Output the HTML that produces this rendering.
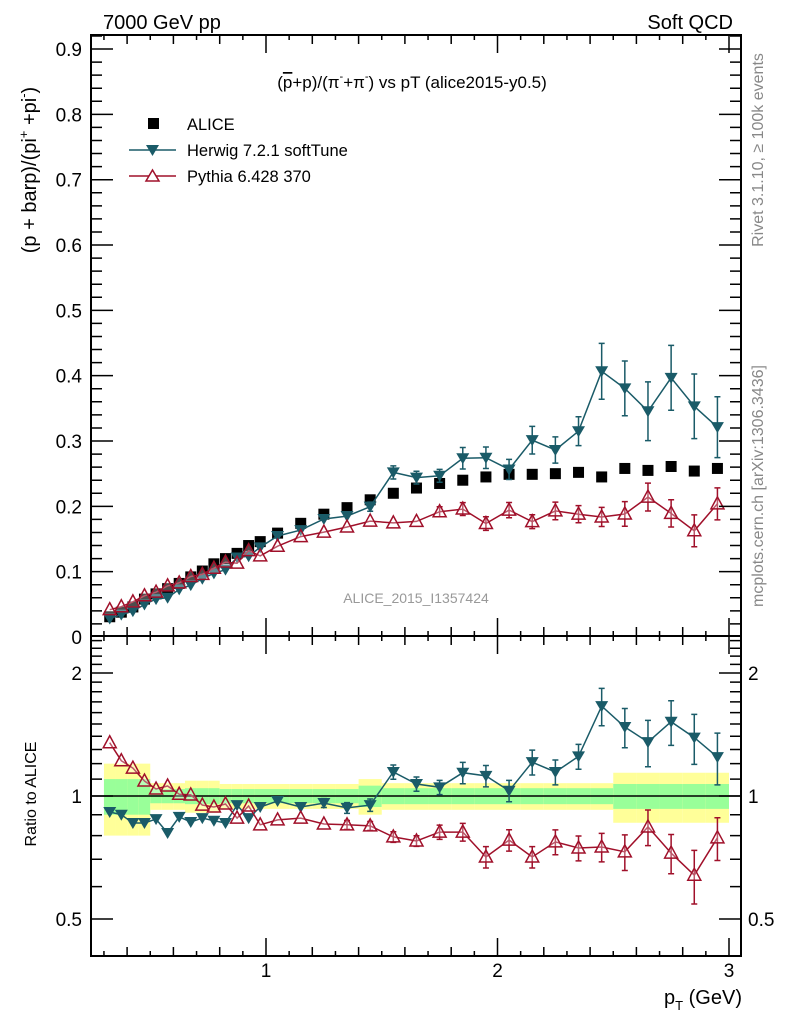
<!DOCTYPE html>
<html><head><meta charset="utf-8"><style>
html,body{margin:0;padding:0;background:#fff;}
svg{display:block;font-family:"Liberation Sans",sans-serif;}
</style></head><body>
<svg id="chart" width="786" height="1024" viewBox="0 0 786 1024" xmlns="http://www.w3.org/2000/svg">
<rect x="0" y="0" width="786" height="1024" fill="#fff"/>
<text x="103" y="29" font-size="20">7000 GeV pp</text>
<text x="733" y="29" font-size="20" text-anchor="end">Soft QCD</text>
<text x="412" y="88" font-size="17" text-anchor="middle">(<tspan text-decoration="overline">p</tspan>+p)/(π<tspan font-size="11" dy="-8">-</tspan><tspan dy="8">+π</tspan><tspan font-size="11" dy="-8">-</tspan><tspan dy="8">) vs pT (alice2015-y0.5)</tspan></text>
<text transform="translate(36,170) rotate(-90)" font-size="20" text-anchor="middle">(p + barp)/(pi<tspan font-size="13" dy="-8">+</tspan><tspan dy="8"> +pi</tspan><tspan font-size="13" dy="-8">-</tspan><tspan dy="8">)</tspan></text>
<text transform="translate(36,794) rotate(-90)" font-size="16" text-anchor="middle">Ratio to ALICE</text>
<text x="742" y="1004" font-size="20" text-anchor="end">p<tspan font-size="13" dy="6">T</tspan><tspan dy="-6"> (GeV)</tspan></text>
<text transform="translate(763,150) rotate(-90)" font-size="16" fill="#888" text-anchor="middle">Rivet 3.1.10, ≥ 100k events</text>
<text transform="translate(763,486) rotate(-90)" font-size="16" fill="#888" text-anchor="middle">mcplots.cern.ch [arXiv:1306.3436]</text>
<text x="416" y="603" font-size="14" fill="#999" text-anchor="middle">ALICE_2015_I1357424</text>
<g>
 <rect x="148" y="118" width="11" height="11" fill="#000"/>
 <text x="187" y="130" font-size="16.5">ALICE</text>
 <line x1="129" y1="150" x2="176" y2="150" stroke="#1a5b68" stroke-width="1.5"/>
 <path d="M146,145 L159,145 L152.5,156 Z" fill="#1a5b68"/>
 <text x="187" y="156" font-size="16.5">Herwig 7.2.1 softTune</text>
 <line x1="129" y1="176" x2="176" y2="176" stroke="#a0102a" stroke-width="1.5"/>
 <path d="M152.5,170 L159,181 L146,181 Z" fill="#fff" stroke="#a0102a" stroke-width="1.5"/>
 <text x="187" y="182" font-size="16.5">Pythia 6.428 370</text>
</g>
<g id="bands"></g>
<g id="marks"></g>
<g id="axes"></g>
</svg>
<script>
const pT = [0.325,0.375,0.425,0.475,0.525,0.575,0.625,0.675,0.725,0.775,0.825,0.875,0.925,0.975,
 1.05,1.15,1.25,1.35,1.45,1.55,1.65,1.75,1.85,1.95,2.05,2.15,2.25,2.35,2.45,2.55,2.65,2.75,2.85,2.95];
const binWidth = [0.05,0.05,0.05,0.05,0.05,0.05,0.05,0.05,0.05,0.05,0.05,0.05,0.05,0.05,
 0.1,0.1,0.1,0.1,0.1,0.1,0.1,0.1,0.1,0.1,0.1,0.1,0.1,0.1,0.1,0.1,0.1,0.1,0.1,0.1];
const alice = [0.031,0.038,0.046,0.058,0.066,0.074,0.082,0.092,0.101,0.112,0.120,0.128,0.140,0.146,
 0.159,0.174,0.188,0.198,0.210,0.220,0.228,0.235,0.240,0.245,0.249,0.249,0.250,0.252,0.245,0.258,0.255,0.261,0.254,0.258];
const bandYellow = [0.2,0.2,0.2,0.2,0.075,0.075,0.075,0.09,0.09,0.09,0.07,0.07,0.07,0.07,
 0.07,0.07,0.07,0.07,0.1,0.075,0.075,0.075,0.075,0.075,0.075,0.075,0.075,0.075,0.075,0.14,0.14,0.14,0.14,0.14];
const bandGreen = [0.1,0.1,0.1,0.1,0.04,0.04,0.04,0.045,0.045,0.045,0.04,0.04,0.04,0.04,
 0.04,0.04,0.04,0.04,0.06,0.045,0.045,0.045,0.045,0.045,0.045,0.045,0.045,0.045,0.045,0.07,0.07,0.07,0.07,0.07];
const herwigRatio = [0.914,0.90,0.859,0.859,0.878,0.812,0.889,0.864,0.883,0.87,0.859,0.95,0.883,0.94,
 0.972,0.94,0.961,0.935,0.95,1.145,1.07,1.05,1.14,1.12,1.03,1.21,1.145,1.25,1.66,1.475,1.355,1.52,1.39,1.245];
const herwigErr = [0.02,0.02,0.02,0.02,0.02,0.02,0.02,0.02,0.02,0.02,0.02,0.02,0.02,0.02,
 0.02,0.02,0.025,0.03,0.035,0.04,0.04,0.04,0.06,0.06,0.06,0.07,0.07,0.07,0.105,0.11,0.13,0.125,0.14,0.145];
const pythiaRatio = [1.35,1.22,1.17,1.088,1.04,1.058,1.01,1.006,0.95,0.94,0.956,0.883,0.945,0.85,
 0.874,0.883,0.854,0.85,0.845,0.794,0.776,0.816,0.816,0.709,0.78,0.709,0.772,0.746,0.75,0.73,0.84,0.725,0.64,0.79];
const pythiaErr = [0.01,0.01,0.01,0.01,0.01,0.01,0.01,0.01,0.01,0.01,0.01,0.01,0.01,0.01,
 0.015,0.015,0.02,0.025,0.025,0.03,0.03,0.04,0.05,0.06,0.06,0.06,0.07,0.07,0.08,0.1,0.1,0.11,0.15,0.12];
const yTicksMain = [0,0.1,0.2,0.3,0.4,0.5,0.6,0.7,0.8,0.9];
const yTickLabelsMain = ["0","0.1","0.2","0.3","0.4","0.5","0.6","0.7","0.8","0.9"];
const xTicks = [1,2,3];
const xTickLabels = ["1","2","3"];
const rTicks = [0.5,1,2];
const rTickLabels = ["0.5","1","2"];

const L=91, R=741, T=35, MB=636, RB=956;
const HCOL="#1a5b68", PCOL="#a0102a", NS="http://www.w3.org/2000/svg";
const X = v => 34.5 + v*231.5;
const Y = v => 637 - v*653.3;
const RY = r => 796 - 123*Math.log2(r);
function el(tag, attrs, parent){const e=document.createElementNS(NS,tag);for(const k in attrs)e.setAttribute(k,attrs[k]);parent.appendChild(e);return e;}
const bands=document.getElementById('bands'), marks=document.getElementById('marks'), axes=document.getElementById('axes');

for(let i=0;i<pT.length;i++){
  const x0=X(pT[i]-binWidth[i]/2), x1=X(pT[i]+binWidth[i]/2);
  const y=el('rect',{x:x0,y:RY(1+bandYellow[i]),width:x1-x0,height:RY(1-bandYellow[i])-RY(1+bandYellow[i]),fill:'#ffff99'},bands);
  
  
  const g=el('rect',{x:x0,y:RY(1+bandGreen[i]),width:x1-x0,height:RY(1-bandGreen[i])-RY(1+bandGreen[i]),fill:'#99ff99'},bands);
  
  
}
const one=el('line',{x1:L,x2:R,y1:RY(1),y2:RY(1),stroke:'#000','stroke-width':1.5},bands);



function series(vals, errs, ymap, color, kind, name){
  let d='';
  vals.forEach((v,i)=>{d+=(i?'L':'M')+X(pT[i]).toFixed(1)+','+ymap(v).toFixed(1);});
  const ln=el('path',{d:d,fill:'none',stroke:color,'stroke-width':1.5},marks);
  
  
  vals.forEach((v,i)=>{
    const x=X(pT[i]), y=ymap(v), e=errs[i];
    const yt=ymap(v*(1+e)), yb=ymap(v*(1-e));
    if(yb-yt>8){
      const eb=el('path',{d:`M${x},${yt}L${x},${yb}M${x-3},${yt}L${x+3},${yt}M${x-3},${yb}L${x+3},${yb}`,stroke:color,'stroke-width':1.5,fill:'none'},marks);
      
      
    }
    let m;
    if(kind==='down') m=el('path',{d:`M${x-6.5},${y-5}L${x+6.5},${y-5}L${x},${y+6}Z`,fill:color},marks);
    else m=el('path',{d:`M${x},${y-7}L${x+6.5},${y+5}L${x-6.5},${y+5}Z`,fill:'#fff','fill-opacity':0.3,stroke:color,'stroke-width':1.5},marks);
    
    
  });
}
alice.forEach((v,i)=>{
  const s=el('rect',{x:X(pT[i])-5.5,y:Y(v)-5.5,width:11,height:11,fill:'#000'},marks);
  
  
});
series(alice.map((a,i)=>a*herwigRatio[i]), herwigErr, Y, HCOL, 'down', 'herwig');
series(alice.map((a,i)=>a*pythiaRatio[i]), pythiaErr, Y, PCOL, 'up', 'pythia');
series(herwigRatio, herwigErr, RY, HCOL, 'down', 'herwig-ratio');
series(pythiaRatio, pythiaErr, RY, PCOL, 'up', 'pythia-ratio');

[[T,MB,'main-frame'],[MB,RB,'ratio-frame']].forEach(f=>{
  const r=el('rect',{x:L,y:f[0],width:R-L,height:f[1]-f[0],fill:'none',stroke:'#000','stroke-width':2},axes);
  
  
});
let tp='';
for(let k=3;k<=30;k++){
  const v=k/10, x=X(v);
  const len = (k%10===0)?18:(k%2===0?9:5);
  [[T,1],[MB,-1],[MB,1],[RB,-1]].forEach(([yy,dir])=>{tp+=`M${x},${yy}L${x},${yy+dir*len}`;});
}
for(let k=0;k<=46;k++){
  const v=k*0.02, y=Y(v); if(y<T||y>MB) continue;
  const len=(k%5===0)?22:11;
  tp+=`M${L},${y}L${L+len},${y}M${R},${y}L${R-len},${y}`;
}
const rminor=[0.5,0.6,0.7,0.8,0.9,1,1.1,1.2,1.3,1.4,1.5,1.6,1.7,1.8,1.9,2,2.1,2.2,2.3,2.4];
rminor.forEach(v=>{const y=RY(v); if(y<MB||y>RB) return; const len=(v===0.5||v===1||v===2)?22:11;
  tp+=`M${L},${y}L${L+len},${y}M${R},${y}L${R-len},${y}`;});
const tk=el('path',{d:tp,stroke:'#000','stroke-width':1.5,fill:'none'},axes);



yTicksMain.forEach((v,i)=>{
  const t=el('text',{x:82,y:Y(v)+7,'font-size':19,'text-anchor':'end'},axes);
  t.textContent=yTickLabelsMain[i];
  
  
});
xTicks.forEach((v,i)=>{
  const t=el('text',{x:X(v),y:977,'font-size':19,'text-anchor':'middle'},axes);
  t.textContent=xTickLabels[i];
  
  
});
rTicks.forEach((v,i)=>{
  const t=el('text',{x:82,y:RY(v)+7,'font-size':19,'text-anchor':'end'},axes);
  t.textContent=rTickLabels[i];
  
  
  const t2=el('text',{x:748,y:RY(v)+7,'font-size':19},axes);
  t2.textContent=rTickLabels[i];
  
  
});
</script>
</body></html>
